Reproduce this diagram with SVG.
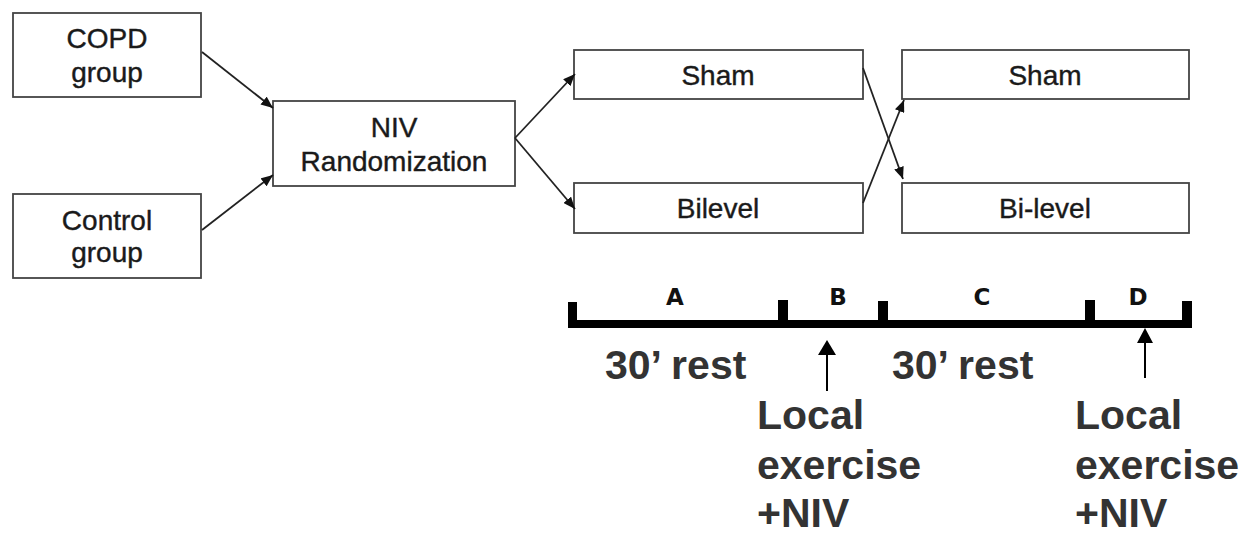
<svg xmlns="http://www.w3.org/2000/svg" width="1247" height="534" viewBox="0 0 1247 534">
<style>
.box{fill:#fff;stroke:#444;stroke-width:1.8}
.bt{font-family:"Liberation Sans",Arial,sans-serif;font-size:28px;fill:#1a1a1a;text-anchor:middle;stroke:#1a1a1a;stroke-width:0.4}
.conn{stroke:#222;stroke-width:1.8;fill:none;marker-end:url(#ah)}
.seg{font-family:"DejaVu Sans",sans-serif;font-size:23px;font-weight:bold;fill:#111;text-anchor:middle}
.lab{font-family:"Liberation Sans",Arial,sans-serif;font-size:41px;font-weight:bold;fill:#333}
</style>
<defs>
<marker id="ah" viewBox="0 0 12 10" refX="12" refY="5" markerWidth="12" markerHeight="10" markerUnits="userSpaceOnUse" orient="auto">
<path d="M0,0 L12,5 L0,10 z" fill="#111"/>
</marker>
</defs>
<rect width="1247" height="534" fill="#fff"/>
<g id="copd"><rect class="box" x="13" y="13" width="188" height="84"/><text class="bt" x="107" y="48">COPD</text><text class="bt" x="107" y="82">group</text></g>
<g id="control"><rect class="box" x="13" y="194" width="188" height="84"/><text class="bt" x="107" y="230">Control</text><text class="bt" x="107" y="262">group</text></g>
<g id="niv"><rect class="box" x="273" y="101" width="242" height="85"/><text class="bt" x="394" y="137">NIV</text><text class="bt" x="394" y="171">Randomization</text></g>
<g id="sham1"><rect class="box" x="574" y="50" width="289" height="49"/><text class="bt" x="718" y="85">Sham</text></g>
<g id="bilevel1"><rect class="box" x="574" y="183" width="289" height="50"/><text class="bt" x="718" y="218">Bilevel</text></g>
<g id="sham2"><rect class="box" x="902" y="50" width="287" height="49"/><text class="bt" x="1045" y="85">Sham</text></g>
<g id="bilevel2"><rect class="box" x="902" y="183" width="287" height="50"/><text class="bt" x="1045" y="218">Bi-level</text></g>
<g id="connectors">
<line class="conn" x1="202" y1="52" x2="273" y2="108"/>
<line class="conn" x1="202" y1="230" x2="273" y2="175"/>
<line class="conn" x1="515" y1="138" x2="575" y2="74"/>
<line class="conn" x1="515" y1="138" x2="575" y2="209"/>
<line class="conn" x1="863" y1="68" x2="903" y2="179"/>
<line class="conn" x1="863" y1="203" x2="904" y2="100"/>
</g>
<g id="timeline" fill="#000">
<rect x="568" y="320" width="624" height="8"/>
<rect x="568" y="302" width="9" height="26"/>
<rect x="778" y="300" width="10" height="28"/>
<rect x="878" y="301" width="10" height="27"/>
<rect x="1085" y="300" width="10" height="28"/>
<rect x="1182" y="301" width="10" height="27"/>
<text class="seg" x="675" y="305">A</text>
<text class="seg" x="838" y="305">B</text>
<text class="seg" x="982" y="305">C</text>
<text class="seg" x="1138" y="305">D</text>
</g>
<g id="markers-up">
<line x1="827" y1="391" x2="827" y2="352" stroke="#000" stroke-width="2"/>
<path d="M818,355 L836,355 L827,340 z" fill="#000"/>
<line x1="1145" y1="378" x2="1145" y2="340" stroke="#000" stroke-width="2"/>
<path d="M1137,343 L1153,343 L1145,328 z" fill="#000"/>
</g>
<g id="labels">
<text class="lab" x="605" y="379">30’ rest</text>
<text class="lab" x="892" y="379">30’ rest</text>
<text class="lab" x="757" y="429">Local</text>
<text class="lab" x="757" y="479">exercise</text>
<text class="lab" x="757" y="527">+NIV</text>
<text class="lab" x="1075" y="429">Local</text>
<text class="lab" x="1075" y="479">exercise</text>
<text class="lab" x="1075" y="527">+NIV</text>
</g>
</svg>
